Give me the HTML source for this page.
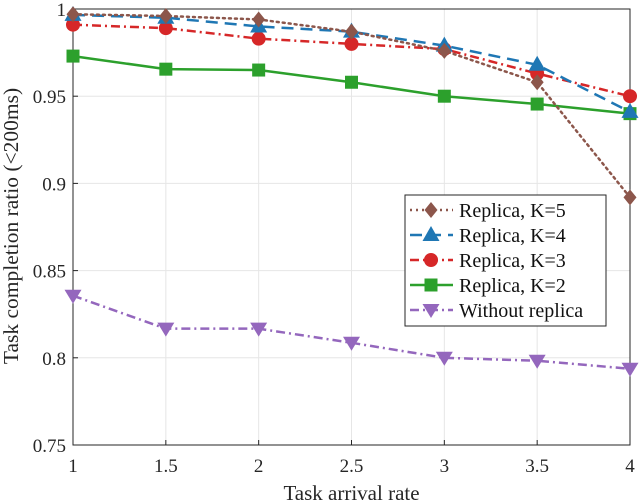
<!DOCTYPE html>
<html><head><meta charset="utf-8">
<style>
body{margin:0;background:#fff;}
svg{display:block;font-family:"Liberation Serif",serif;}
</style></head>
<body>
<svg id="chart" width="640" height="504"></svg>
<script>
const xValues=[1,1.5,2,2.5,3,3.5,4];
const seriesNames=["Replica, K=5","Replica, K=4","Replica, K=3","Replica, K=2","Without replica"];
const k5=[0.997,0.996,0.994,0.987,0.976,0.958,0.892];
const k4=[0.9966,0.995,0.990,0.987,0.979,0.968,0.941];
const k3=[0.991,0.989,0.983,0.980,0.977,0.963,0.950];
const k2=[0.973,0.9655,0.965,0.958,0.950,0.9455,0.940];
const noRep=[0.8356,0.8167,0.8167,0.8086,0.800,0.7983,0.7937];
const xTicks=[1,1.5,2,2.5,3,3.5,4];
const yTicks=[0.75,0.8,0.85,0.9,0.95,1];
const yTickLabels=["0.75","0.8","0.85","0.9","0.95","1"];

const L=73,R=630,T=9,B=445;
const sx=v=>L+(v-1)/3*(R-L);
const sy=v=>B-(v-0.75)/0.25*(B-T);
const NS="http://www.w3.org/2000/svg";
const svg=document.getElementById('chart');
function mk(tag,attrs,parent){const e=document.createElementNS(NS,tag);for(const k in attrs)e.setAttribute(k,attrs[k]);(parent||svg).appendChild(e);return e;}

xTicks.forEach(t=>{
  const g=mk('line',{x1:sx(t),x2:sx(t),y1:T,y2:B,stroke:'#e6e6e6','stroke-width':1});
  
  
  const tk=mk('line',{x1:sx(t),x2:sx(t),y1:B,y2:B-5,stroke:'#262626'});
  
  
  const tx=mk('text',{x:sx(t),y:472,'text-anchor':'middle','font-size':19,fill:'#262626'});
  tx.textContent=String(t);
  
  
});
yTicks.forEach((t,i)=>{
  const g=mk('line',{x1:L,x2:R,y1:sy(t),y2:sy(t),stroke:'#e6e6e6','stroke-width':1});
  
  
  const tk=mk('line',{x1:L,x2:L+5,y1:sy(t),y2:sy(t),stroke:'#262626'});
  
  
  const tx=mk('text',{x:L-7,y:sy(t)+7,'text-anchor':'end','font-size':19,fill:'#262626'});
  tx.textContent=yTickLabels[i];
  
  
});
const frame=mk('rect',{x:L,y:T,width:R-L,height:B-T,fill:'none',stroke:'#262626','stroke-width':1});



const xt=mk('text',{x:(L+R)/2,y:500,'text-anchor':'middle','font-size':21,fill:'#262626'});
xt.textContent='Task arrival rate';


const yt=mk('text',{x:0,y:0,'text-anchor':'middle','font-size':21.5,fill:'#262626',transform:'translate(18,226) rotate(-90)'});
yt.textContent='Task completion ratio (<200ms)';



const styles=[
 {data:k5,color:'#8c564b',dash:'2,4',marker:'diamond',cap:'round'},
 {data:k4,color:'#1f77b4',dash:'12,7',marker:'up'},
 {data:k3,color:'#d62728',dash:'9,4,2,4',marker:'circle'},
 {data:k2,color:'#2ca02c',dash:'',marker:'square'},
 {data:noRep,color:'#9467bd',dash:'9,4,2,4',marker:'down'}
];
function marker(type,x,y,color,parent){
  let m;
  if(type==='diamond') m=mk('polygon',{points:`${x},${y-8} ${x+6.5},${y} ${x},${y+8} ${x-6.5},${y}`,fill:color},parent);
  else if(type==='up') m=mk('polygon',{points:`${x},${y-9} ${x+8.5},${y+6} ${x-8.5},${y+6}`,fill:color},parent);
  else if(type==='down') m=mk('polygon',{points:`${x-8.5},${y-6} ${x+8.5},${y-6} ${x},${y+8}`,fill:color},parent);
  else if(type==='circle') m=mk('circle',{cx:x,cy:y,r:7,fill:color},parent);
  else m=mk('rect',{x:x-6.5,y:y-6.5,width:13,height:13,fill:color},parent);
  return m;
}
const order=[3,4,2,1,0];
order.forEach(i=>{
  const s=styles[i];
  const g=mk('g',{});
  
  
  const p=mk('polyline',{points:s.data.map((v,j)=>sx(xValues[j])+','+sy(v)).join(' '),fill:'none',stroke:s.color,'stroke-width':2.5,'stroke-dasharray':s.dash,'stroke-linecap':s.cap||'butt'},g);
  
  
  s.data.forEach((v,j)=>{
    const m=marker(s.marker,sx(xValues[j]),sy(v),s.color,g);
    
    
  });
});

const lg=mk('g',{});


const lb=mk('rect',{x:405,y:195,width:201,height:131,fill:'#fff',stroke:'#262626','stroke-width':1},lg);


const ly=[210,235,260,285,310];
styles.forEach((s,i)=>{
  const e=mk('g',{},lg);
  
  
  mk('line',{x1:410,x2:453,y1:ly[i],y2:ly[i],stroke:s.color,'stroke-width':2.5,'stroke-dasharray':s.dash},e);
  marker(s.marker,431,ly[i],s.color,e);
  const t=mk('text',{x:459,y:ly[i]+7,'font-size':20,fill:'#111'},e);
  t.textContent=seriesNames[i];
});
</script>
</body></html>
